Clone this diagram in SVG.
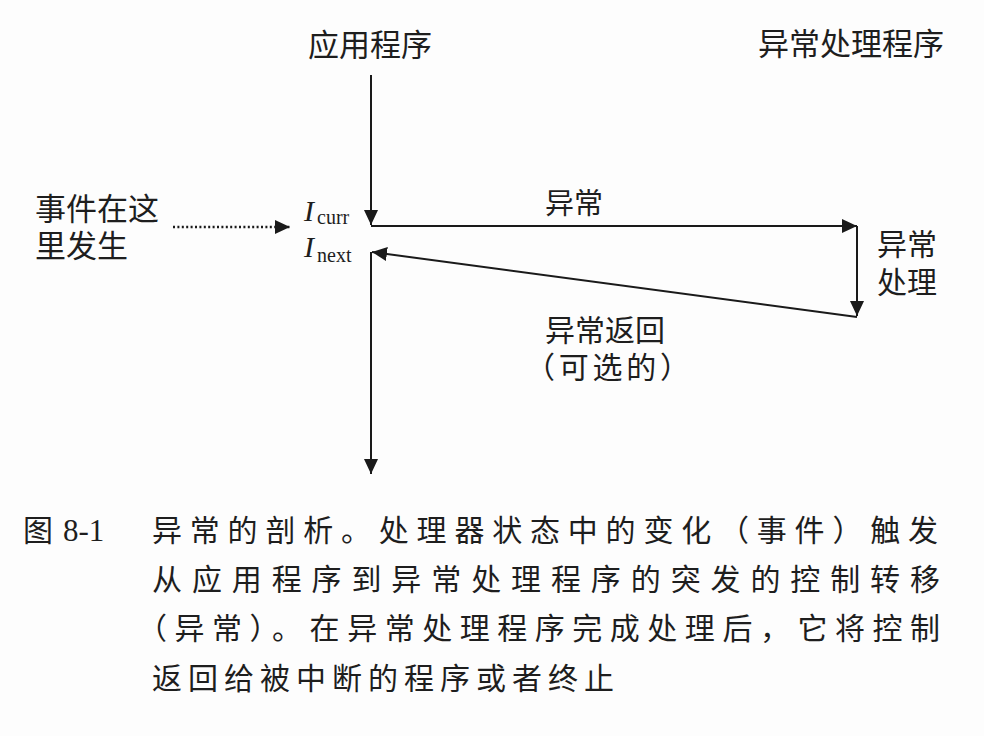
<svg xmlns="http://www.w3.org/2000/svg" width="984" height="736" viewBox="0 0 984 736">
  <defs>
    <style>
      .cjk { font-family: "Noto Sans CJK SC", "Noto Sans", sans-serif; fill: #1e1e1e; }
      .lat { font-family: "Liberation Serif", "Noto Sans CJK SC", serif; fill: #1e1e1e; }
      .ln { stroke: #1a1a1a; stroke-width: 2; fill: none; }
      .dot { stroke: #1a1a1a; stroke-width: 2.4; fill: none; stroke-dasharray: 2 2.4; }
    </style>
    <marker id="ah" markerWidth="16" markerHeight="16" refX="15" refY="7" orient="auto" markerUnits="userSpaceOnUse">
      <path d="M0,0 L15,7 L0,14 z" fill="#1a1a1a"/>
    </marker>
  </defs>
  <rect width="984" height="736" fill="#fdfdfd"/>

  <g id="app-label">
    <text class="cjk" x="308" y="56" font-size="31">应用程序</text>
  </g>
  <g id="handler-label">
    <text class="cjk" x="758" y="55" font-size="31">异常处理程序</text>
  </g>
  <g id="event-label">
    <text class="cjk" x="35" y="220" font-size="31">事件在这</text>
    <text class="cjk" x="35" y="257" font-size="31">里发生</text>
  </g>
  <g id="icurr">
    <text class="lat" x="304" y="221" font-size="30" font-style="italic">I</text>
    <text class="lat" x="317" y="224" font-size="20">curr</text>
  </g>
  <g id="inext">
    <text class="lat" x="304" y="257" font-size="30" font-style="italic">I</text>
    <text class="lat" x="317" y="262" font-size="20">next</text>
  </g>
  <g id="exception-label">
    <text class="cjk" x="545" y="214" font-size="29">异常</text>
  </g>
  <g id="handling-label">
    <text class="cjk" x="877" y="255" font-size="30">异常</text>
    <text class="cjk" x="877" y="293" font-size="30">处理</text>
  </g>
  <g id="return-label">
    <text class="cjk" x="545" y="341" font-size="30">异常返回</text>
    <text class="cjk" x="525" y="378" font-size="30" textLength="165" lengthAdjust="spacing">（可选的）</text>
  </g>

  <g id="connectors">
    <path class="ln" d="M371,75 L371,225" marker-end="url(#ah)"/>
    <path class="ln" d="M371,226 L857,226" marker-end="url(#ah)"/>
    <path class="ln" d="M857,226 L857,316" marker-end="url(#ah)"/>
    <path class="ln" d="M857,317 L372,252" marker-end="url(#ah)"/>
    <path class="ln" d="M371,252 L371,474" marker-end="url(#ah)"/>
    <path class="dot" d="M173,227 L290,227" marker-end="url(#ah)"/>
  </g>

  <g id="caption">
    <text class="cjk" x="23" y="541" font-size="30">图</text>
    <text class="lat" x="63" y="541" font-size="31">8-1</text>
    <text class="cjk" x="152" y="541" font-size="30" textLength="786" lengthAdjust="spacing">异常的剖析。处理器状态中的变化（事件）触发</text>
    <text class="cjk" x="152" y="590" font-size="30" textLength="788" lengthAdjust="spacing">从应用程序到异常处理程序的突发的控制转移</text>
    <text class="cjk" x="137" y="639" font-size="30" textLength="803" lengthAdjust="spacing">（异常）。在异常处理程序完成处理后，它将控制</text>
    <text class="cjk" x="152" y="689" font-size="30" textLength="462" lengthAdjust="spacing">返回给被中断的程序或者终止</text>
  </g>
</svg>
